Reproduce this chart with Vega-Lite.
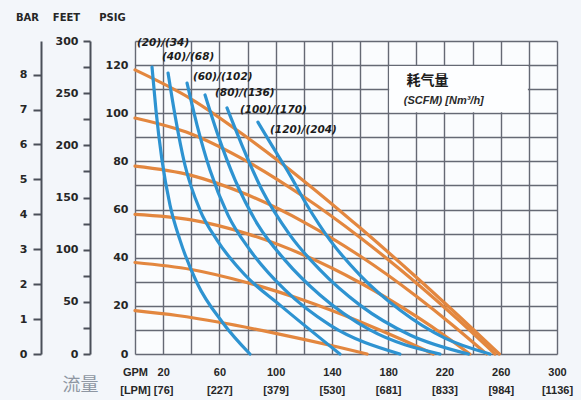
{
  "$schema": "https://vega.github.io/schema/vega-lite/v6.json",
  "width": 422,
  "height": 313,
  "autosize": "none",
  "padding": {"left": 135, "top": 41, "right": 24, "bottom": 46},
  "background": "#f3f6fa",
  "config": {"view": {"fill": "#fafcfe", "stroke": null}, "font": "Liberation Sans"},
  "datasets": {
    "curves": [
      {"series": "O120", "kind": "pressure", "gpm": 0, "psi": 118},
      {"series": "O120", "kind": "pressure", "gpm": 40, "psi": 105.9},
      {"series": "O120", "kind": "pressure", "gpm": 80, "psi": 89.8},
      {"series": "O120", "kind": "pressure", "gpm": 120, "psi": 71.9},
      {"series": "O120", "kind": "pressure", "gpm": 160, "psi": 52.4},
      {"series": "O120", "kind": "pressure", "gpm": 200, "psi": 31.9},
      {"series": "O120", "kind": "pressure", "gpm": 230, "psi": 15.9},
      {"series": "O120", "kind": "pressure", "gpm": 259, "psi": 0},
      {"series": "O100", "kind": "pressure", "gpm": 0, "psi": 98},
      {"series": "O100", "kind": "pressure", "gpm": 40, "psi": 91.4},
      {"series": "O100", "kind": "pressure", "gpm": 80, "psi": 79.9},
      {"series": "O100", "kind": "pressure", "gpm": 120, "psi": 65.3},
      {"series": "O100", "kind": "pressure", "gpm": 160, "psi": 48.4},
      {"series": "O100", "kind": "pressure", "gpm": 200, "psi": 29.5},
      {"series": "O100", "kind": "pressure", "gpm": 230, "psi": 14.1},
      {"series": "O100", "kind": "pressure", "gpm": 256, "psi": 0},
      {"series": "O80", "kind": "pressure", "gpm": 0, "psi": 78},
      {"series": "O80", "kind": "pressure", "gpm": 40, "psi": 74.2},
      {"series": "O80", "kind": "pressure", "gpm": 80, "psi": 66.1},
      {"series": "O80", "kind": "pressure", "gpm": 120, "psi": 54.8},
      {"series": "O80", "kind": "pressure", "gpm": 160, "psi": 40.7},
      {"series": "O80", "kind": "pressure", "gpm": 200, "psi": 24.0},
      {"series": "O80", "kind": "pressure", "gpm": 225, "psi": 12.4},
      {"series": "O80", "kind": "pressure", "gpm": 250, "psi": 0},
      {"series": "O60", "kind": "pressure", "gpm": 0, "psi": 58},
      {"series": "O60", "kind": "pressure", "gpm": 40, "psi": 55.7},
      {"series": "O60", "kind": "pressure", "gpm": 80, "psi": 49.9},
      {"series": "O60", "kind": "pressure", "gpm": 120, "psi": 41.1},
      {"series": "O60", "kind": "pressure", "gpm": 160, "psi": 29.6},
      {"series": "O60", "kind": "pressure", "gpm": 200, "psi": 15.6},
      {"series": "O60", "kind": "pressure", "gpm": 220, "psi": 7.7},
      {"series": "O60", "kind": "pressure", "gpm": 238, "psi": 0},
      {"series": "O40", "kind": "pressure", "gpm": 0, "psi": 38},
      {"series": "O40", "kind": "pressure", "gpm": 40, "psi": 35.1},
      {"series": "O40", "kind": "pressure", "gpm": 80, "psi": 29.6},
      {"series": "O40", "kind": "pressure", "gpm": 120, "psi": 22.3},
      {"series": "O40", "kind": "pressure", "gpm": 160, "psi": 13.4},
      {"series": "O40", "kind": "pressure", "gpm": 190, "psi": 5.9},
      {"series": "O40", "kind": "pressure", "gpm": 212, "psi": 0},
      {"series": "O20", "kind": "pressure", "gpm": 0, "psi": 18},
      {"series": "O20", "kind": "pressure", "gpm": 30, "psi": 16.0},
      {"series": "O20", "kind": "pressure", "gpm": 60, "psi": 13.2},
      {"series": "O20", "kind": "pressure", "gpm": 90, "psi": 9.8},
      {"series": "O20", "kind": "pressure", "gpm": 120, "psi": 6.1},
      {"series": "O20", "kind": "pressure", "gpm": 145, "psi": 2.8},
      {"series": "O20", "kind": "pressure", "gpm": 165, "psi": 0},
      {"series": "B20", "kind": "air", "gpm": 12.1, "psi": 119.2},
      {"series": "B20", "kind": "air", "gpm": 14.9, "psi": 101.3},
      {"series": "B20", "kind": "air", "gpm": 19.2, "psi": 80.5},
      {"series": "B20", "kind": "air", "gpm": 24.9, "psi": 61.8},
      {"series": "B20", "kind": "air", "gpm": 32.0, "psi": 47.3},
      {"series": "B20", "kind": "air", "gpm": 44.1, "psi": 29.5},
      {"series": "B20", "kind": "air", "gpm": 62.5, "psi": 12.9},
      {"series": "B20", "kind": "air", "gpm": 81.7, "psi": 0},
      {"series": "B40", "kind": "air", "gpm": 23.5, "psi": 116.7},
      {"series": "B40", "kind": "air", "gpm": 28.4, "psi": 99.3},
      {"series": "B40", "kind": "air", "gpm": 35.5, "psi": 78.5},
      {"series": "B40", "kind": "air", "gpm": 46.2, "psi": 59.8},
      {"series": "B40", "kind": "air", "gpm": 58.3, "psi": 47.3},
      {"series": "B40", "kind": "air", "gpm": 78.2, "psi": 32.8},
      {"series": "B40", "kind": "air", "gpm": 103.1, "psi": 20.3},
      {"series": "B40", "kind": "air", "gpm": 145.7, "psi": 0},
      {"series": "B60", "kind": "air", "gpm": 37.0, "psi": 112.5},
      {"series": "B60", "kind": "air", "gpm": 44.1, "psi": 95.1},
      {"series": "B60", "kind": "air", "gpm": 53.3, "psi": 76.4},
      {"series": "B60", "kind": "air", "gpm": 66.1, "psi": 57.7},
      {"series": "B60", "kind": "air", "gpm": 81.7, "psi": 43.2},
      {"series": "B60", "kind": "air", "gpm": 106.6, "psi": 26.6},
      {"series": "B60", "kind": "air", "gpm": 138.6, "psi": 12.0},
      {"series": "B60", "kind": "air", "gpm": 188.3, "psi": 0},
      {"series": "B80", "kind": "air", "gpm": 49.8, "psi": 107.6},
      {"series": "B80", "kind": "air", "gpm": 59.0, "psi": 90.9},
      {"series": "B80", "kind": "air", "gpm": 71.1, "psi": 72.3},
      {"series": "B80", "kind": "air", "gpm": 87.4, "psi": 53.6},
      {"series": "B80", "kind": "air", "gpm": 106.6, "psi": 39.0},
      {"series": "B80", "kind": "air", "gpm": 131.5, "psi": 24.5},
      {"series": "B80", "kind": "air", "gpm": 167.0, "psi": 10.0},
      {"series": "B80", "kind": "air", "gpm": 216.8, "psi": 0},
      {"series": "B100", "kind": "air", "gpm": 65.4, "psi": 102.2},
      {"series": "B100", "kind": "air", "gpm": 76.0, "psi": 86.8},
      {"series": "B100", "kind": "air", "gpm": 90.3, "psi": 68.1},
      {"series": "B100", "kind": "air", "gpm": 110.2, "psi": 49.4},
      {"series": "B100", "kind": "air", "gpm": 131.5, "psi": 34.9},
      {"series": "B100", "kind": "air", "gpm": 159.9, "psi": 20.3},
      {"series": "B100", "kind": "air", "gpm": 195.5, "psi": 7.9},
      {"series": "B100", "kind": "air", "gpm": 237.0, "psi": 0},
      {"series": "B120", "kind": "air", "gpm": 87.4, "psi": 96.3},
      {"series": "B120", "kind": "air", "gpm": 95.9, "psi": 88.0},
      {"series": "B120", "kind": "air", "gpm": 110.2, "psi": 74.3},
      {"series": "B120", "kind": "air", "gpm": 122.2, "psi": 61.9},
      {"series": "B120", "kind": "air", "gpm": 138.6, "psi": 47.3},
      {"series": "B120", "kind": "air", "gpm": 159.9, "psi": 32.8},
      {"series": "B120", "kind": "air", "gpm": 188.3, "psi": 18.3},
      {"series": "B120", "kind": "air", "gpm": 220.3, "psi": 6.6},
      {"series": "B120", "kind": "air", "gpm": 252.3, "psi": 0}
    ],
    "labels": [
      {"gpm": 1.4, "psi": 129.3, "text": "(20)/(34)"},
      {"gpm": 19.2, "psi": 123.3, "text": "(40)/(68)"},
      {"gpm": 41.2, "psi": 115, "text": "(60)/(102)"},
      {"gpm": 56.9, "psi": 108.4, "text": "(80)/(136)"},
      {"gpm": 74.6, "psi": 101.3, "text": "(100)/(170)"},
      {"gpm": 96, "psi": 93, "text": "(120)/(204)"}
    ]
  },
  "encoding": {
    "x": {
      "field": "gpm",
      "type": "quantitative",
      "scale": {"domain": [0, 300], "nice": false, "zero": false},
      "axis": {
        "values": [0, 20, 40, 60, 80, 100, 120, 140, 160, 180, 200, 220, 240, 260, 280, 300],
        "labelExpr": "datum.value == 0 ? ['GPM', '[LPM]'] : ((datum.value - 20) % 40 == 0 ? [datum.label, '[' + format(datum.value * 3.7854, 'd') + ']'] : '')",
        "ticks": false,
        "domain": false,
        "grid": true,
        "gridColor": "#656974",
        "gridWidth": 1.4,
        "labelPadding": 12,
        "labelLineHeight": 18,
        "labelFontSize": 11,
        "labelFontWeight": "bold",
        "labelColor": "#262626",
        "labelOverlap": false,
        "labelFlush": false,
        "title": "流量",
        "titleFont": "Noto Sans CJK SC",
        "titleFontSize": 18,
        "titleFontWeight": "normal",
        "titleColor": "#8e96a2",
        "titleX": -55,
        "titleY": 31,
        "titleAlign": "center",
        "titleBaseline": "middle"
      }
    }
  },
  "layer": [
    {
      "data": {"values": [{"gpm": 180.7, "gpm2": 279.3, "psi": 100.4, "psi2": 119.6}]},
      "mark": {"type": "rect", "fill": "#fdfeff"},
      "encoding": {
        "x2": {"field": "gpm2"},
        "y": {
          "field": "psi",
          "type": "quantitative",
          "scale": {"domain": [0, 130], "nice": false},
          "axis": {
            "values": [0, 10, 20, 30, 40, 50, 60, 70, 80, 90, 100, 110, 120, 130],
            "labelExpr": "datum.value % 20 == 0 && datum.value <= 120 ? datum.label : ''",
            "ticks": false,
            "domain": false,
            "grid": true,
            "gridColor": "#656974",
            "gridWidth": 1.4,
            "labelPadding": 7,
            "labelFont": "DejaVu Sans",
            "labelFontSize": 11,
            "labelFontWeight": "bold",
            "labelColor": "#262626",
            "title": "PSIG",
            "titleFont": "DejaVu Sans",
            "titleAngle": 0,
            "titleX": -23,
            "titleY": -24,
            "titleAlign": "center",
            "titleBaseline": "middle",
            "titleFontSize": 10,
            "titleFontWeight": "bold",
            "titleColor": "#262626"
          }
        },
        "y2": {"field": "psi2"}
      }
    },
    {
      "data": {"name": "curves"},
      "mark": {"type": "line", "interpolate": "monotone", "strokeWidth": 3.2, "strokeCap": "round"},
      "encoding": {
        "y": {"field": "psi", "type": "quantitative", "scale": {"domain": [0, 130], "nice": false}, "axis": null},
        "color": {"field": "kind", "type": "nominal", "scale": {"domain": ["pressure", "air"], "range": ["#e3873f", "#2e93d1"]}, "legend": null},
        "detail": {"field": "series"}
      }
    },
    {
      "data": {"name": "labels"},
      "mark": {"type": "text", "align": "left", "baseline": "middle", "font": "DejaVu Sans", "fontStyle": "italic", "fontWeight": "bold", "fontSize": 10.5, "color": "#1c1c1c"},
      "encoding": {
        "y": {"field": "psi", "type": "quantitative", "scale": {"domain": [0, 130], "nice": false}, "axis": null},
        "text": {"field": "text"}
      }
    },
    {
      "data": {"values": [{"gpm": 208, "psi": 113.5, "text": "耗气量"}]},
      "mark": {"type": "text", "align": "center", "baseline": "middle", "font": "Noto Sans CJK SC", "fontWeight": "bold", "fontSize": 14, "color": "#1c1c1c"},
      "encoding": {
        "y": {"field": "psi", "type": "quantitative", "scale": {"domain": [0, 130], "nice": false}, "axis": null},
        "text": {"field": "text"}
      }
    },
    {
      "data": {"values": [{"gpm": 219.5, "psi": 105.2, "text": "(SCFM) [Nm³/h]"}]},
      "mark": {"type": "text", "align": "center", "baseline": "middle", "fontStyle": "italic", "fontWeight": "bold", "fontSize": 11, "color": "#2a2a2a"},
      "encoding": {
        "y": {"field": "psi", "type": "quantitative", "scale": {"domain": [0, 130], "nice": false}, "axis": null},
        "text": {"field": "text"}
      }
    },
    {
      "data": {"values": [{"gpm": 0, "feet": 0}, {"gpm": 0, "feet": 300}]},
      "mark": {"type": "point", "opacity": 0},
      "encoding": {
        "y": {
          "field": "feet",
          "type": "quantitative",
          "scale": {"domain": [0, 300], "nice": false},
          "axis": {
            "orient": "left",
            "offset": 45,
            "values": [0, 25, 50, 75, 100, 125, 150, 175, 200, 225, 250, 275, 300],
            "labelExpr": "datum.value % 50 == 0 ? datum.label : ''",
            "grid": false,
            "tickSize": 7,
            "tickWidth": 2,
            "tickColor": "#4a4f58",
            "domainColor": "#4a4f58",
            "domainWidth": 2,
            "labelPadding": 5,
            "labelFont": "DejaVu Sans",
            "labelFontSize": 11,
            "labelFontWeight": "bold",
            "labelColor": "#262626",
            "title": "FEET",
            "titleFont": "DejaVu Sans",
            "titleAngle": 0,
            "titleX": -24,
            "titleY": -24,
            "titleAlign": "center",
            "titleBaseline": "middle",
            "titleFontSize": 10,
            "titleFontWeight": "bold",
            "titleColor": "#262626"
          }
        }
      }
    },
    {
      "data": {"values": [{"gpm": 0, "bar": 0}, {"gpm": 0, "bar": 8.963}]},
      "mark": {"type": "point", "opacity": 0},
      "encoding": {
        "y": {
          "field": "bar",
          "type": "quantitative",
          "scale": {"domain": [0, 8.963], "nice": false},
          "axis": {
            "orient": "left",
            "offset": 94,
            "values": [0, 1, 2, 3, 4, 5, 6, 7, 8],
            "grid": false,
            "tickSize": 8,
            "tickWidth": 2,
            "tickColor": "#4a4f58",
            "domainColor": "#4a4f58",
            "domainWidth": 2,
            "labelPadding": 6,
            "labelFont": "DejaVu Sans",
            "labelFontSize": 11,
            "labelFontWeight": "bold",
            "labelColor": "#262626",
            "title": "BAR",
            "titleFont": "DejaVu Sans",
            "titleAngle": 0,
            "titleX": -14,
            "titleY": -24,
            "titleAlign": "center",
            "titleBaseline": "middle",
            "titleFontSize": 10,
            "titleFontWeight": "bold",
            "titleColor": "#262626"
          }
        }
      }
    }
  ],
  "resolve": {"scale": {"y": "independent"}, "axis": {"y": "independent"}}
}
